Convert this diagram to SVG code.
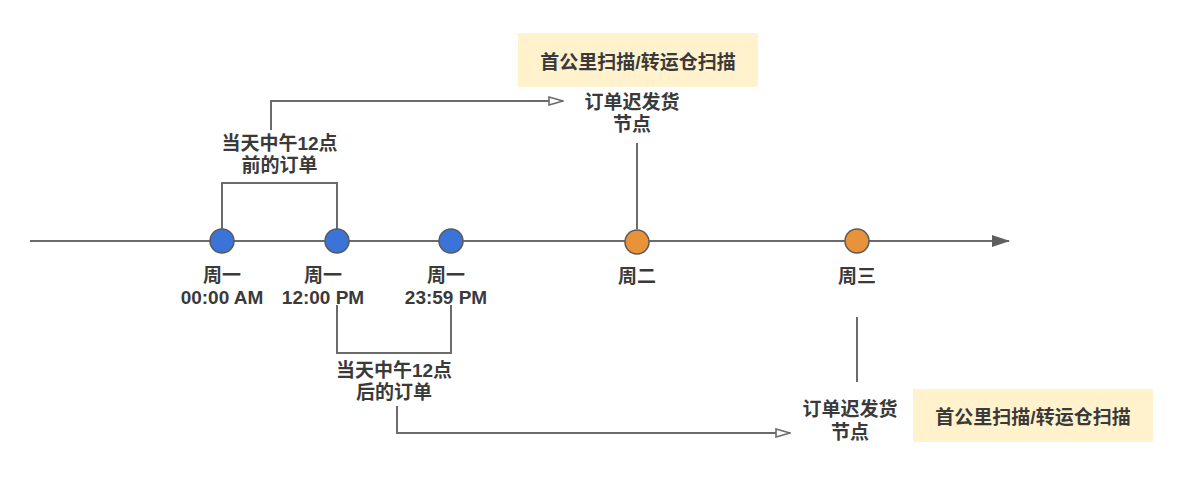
<svg xmlns="http://www.w3.org/2000/svg" width="1204" height="489" viewBox="0 0 1204 489">
<style>
.t{font-family:"Liberation Sans","Noto Sans CJK SC",sans-serif;font-weight:bold;font-size:19px;fill:#3a3a3a;text-anchor:middle}
.ln{fill:none;stroke:#6b6b6b;stroke-width:2}
.blue{fill:#3b74d8;stroke:#5a5a5a;stroke-width:1.5}
.orange{fill:#e8923a;stroke:#5a5a5a;stroke-width:1.5}
.box{fill:#fff2cc}
</style>
<defs>
<marker id="open" viewBox="0 0 16 10" refX="15" refY="5" markerWidth="16" markerHeight="10" markerUnits="userSpaceOnUse" orient="auto">
<path d="M1,1 L15,5 L1,9 Z" fill="#fff" stroke="#6b6b6b" stroke-width="1.6"/>
</marker>
<marker id="filled" viewBox="0 0 18 12" refX="17" refY="6" markerWidth="18" markerHeight="12" markerUnits="userSpaceOnUse" orient="auto">
<path d="M0,0 L18,6 L0,12 Z" fill="#5f5f5f"/>
</marker>
</defs>
<g id="connectors">
<line class="ln" x1="30" y1="241" x2="1009" y2="241" marker-end="url(#filled)"/>
<polyline class="ln" points="222,229 222,183 337,183 337,229"/>
<polyline class="ln" points="271,130 271,101 563,101" marker-end="url(#open)"/>
<polyline class="ln" points="337,305 337,353 451,353 451,305"/>
<polyline class="ln" points="397,406 397,433 790,433" marker-end="url(#open)"/>
<line class="ln" x1="637" y1="143" x2="637" y2="229"/>
<line class="ln" x1="857" y1="317" x2="857" y2="382"/>
</g>
<g id="mon-0000">
<circle class="blue" cx="222" cy="241" r="12"/>
<text class="t" x="222" y="282">周一</text>
<text class="t" x="222" y="304">00:00 AM</text>
</g>
<g id="mon-1200">
<circle class="blue" cx="337" cy="241" r="12"/>
<text class="t" x="323" y="282">周一</text>
<text class="t" x="323" y="304">12:00 PM</text>
</g>
<g id="mon-2359">
<circle class="blue" cx="451" cy="241" r="12"/>
<text class="t" x="446" y="282">周一</text>
<text class="t" x="446" y="304">23:59 PM</text>
</g>
<g id="tue">
<circle class="orange" cx="637" cy="242" r="12"/>
<text class="t" x="637" y="283">周二</text>
</g>
<g id="wed">
<circle class="orange" cx="857" cy="241" r="12"/>
<text class="t" x="857" y="283">周三</text>
</g>
<g id="before-noon">
<text class="t" x="279.5" y="150">当天中午12点</text>
<text class="t" x="279.5" y="172">前的订单</text>
</g>
<g id="after-noon">
<text class="t" x="394" y="377">当天中午12点</text>
<text class="t" x="394" y="399">后的订单</text>
</g>
<g id="late-node-1">
<text class="t" x="632" y="109">订单迟发货</text>
<text class="t" x="632" y="131">节点</text>
</g>
<g id="late-node-2">
<text class="t" x="850" y="416">订单迟发货</text>
<text class="t" x="850" y="439">节点</text>
</g>
<g id="scan-1">
<rect class="box" x="518" y="33" width="240" height="54"/>
<text class="t" x="638" y="69">首公里扫描/转运仓扫描</text>
</g>
<g id="scan-2">
<rect class="box" x="913" y="389" width="240" height="53"/>
<text class="t" x="1033" y="424">首公里扫描/转运仓扫描</text>
</g>
</svg>
